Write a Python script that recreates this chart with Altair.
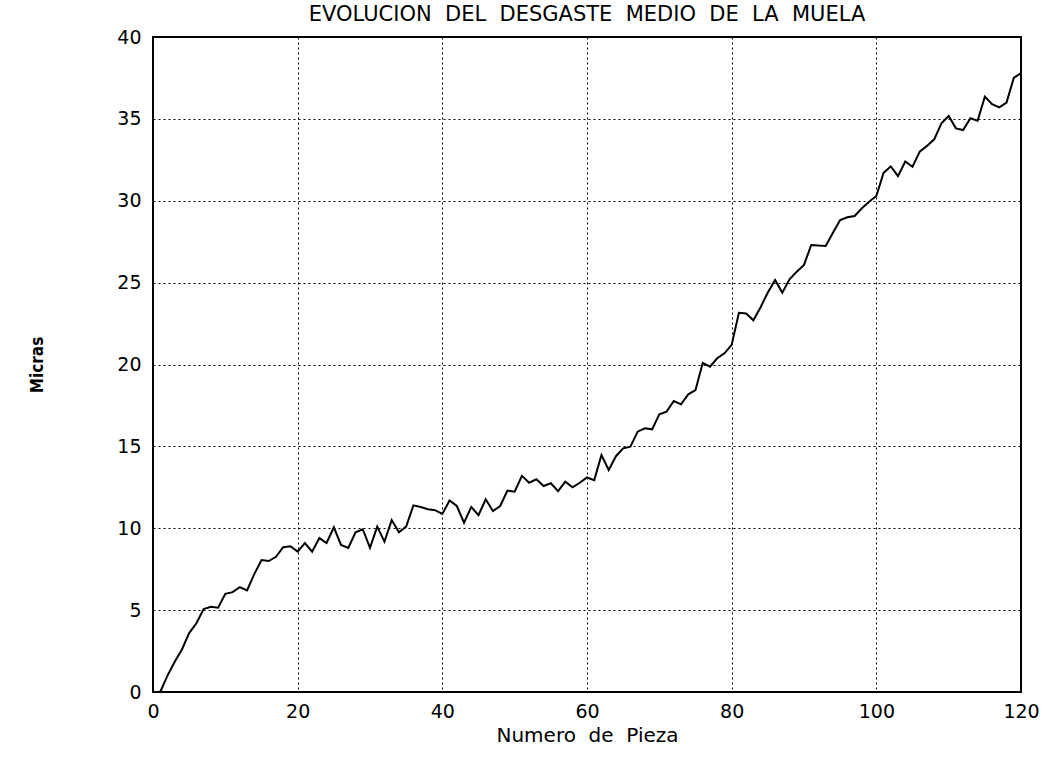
import altair as alt
import pandas as pd

piece = list(range(1, 121))
wear = [
    0.0, 1.0, 1.85, 2.6, 3.6, 4.2, 5.07, 5.2, 5.15, 6.0,
    6.1, 6.4, 6.2, 7.2, 8.06, 8.0, 8.26, 8.84, 8.9, 8.57,
    9.1, 8.57, 9.4, 9.1, 10.06, 8.98, 8.8, 9.75, 9.94, 8.8,
    10.1, 9.18, 10.5, 9.75, 10.1, 11.4, 11.3, 11.16, 11.1, 10.87,
    11.7, 11.36, 10.34, 11.3, 10.8, 11.77, 11.05, 11.36, 12.3, 12.23,
    13.2, 12.78, 12.99, 12.58, 12.75, 12.27, 12.84, 12.5, 12.78, 13.1,
    12.94, 14.47, 13.56, 14.4, 14.88, 14.98, 15.9, 16.1, 16.04, 16.96,
    17.12, 17.77, 17.57, 18.18, 18.44, 20.1, 19.87, 20.38, 20.68, 21.2,
    23.16, 23.12, 22.7, 23.5, 24.4, 25.16, 24.39, 25.2, 25.67, 26.08,
    27.3, 27.26, 27.24, 28.05, 28.82, 28.99, 29.07, 29.54, 29.94, 30.29,
    31.7, 32.1, 31.5, 32.4, 32.08, 33.0, 33.35, 33.75, 34.73, 35.18,
    34.42, 34.32, 35.04, 34.89, 36.36, 35.9, 35.7, 36.0, 37.5, 37.8,
]
x_ticks = [0, 20, 40, 60, 80, 100, 120]
y_ticks = [0, 5, 10, 15, 20, 25, 30, 35, 40]
x_domain = [0, 120]
y_domain = [0, 40]

NB = "\u00a0"
title_text = (NB * 2).join(["EVOLUCION", "DEL", "DESGASTE", "MEDIO", "DE", "LA", "MUELA"])
x_title = (NB * 2).join(["Numero", "de", "Pieza"])

df = pd.DataFrame({"pieza": piece, "micras": wear})
frame_df = pd.DataFrame({"x0": [x_domain[0]], "x1": [x_domain[1]], "y0": [y_domain[0]], "y1": [y_domain[1]]})

W, H = 868, 655
grid_dash = [2, 3]

x_scale = alt.Scale(domain=x_domain, nice=False, zero=False)
y_scale = alt.Scale(domain=y_domain, nice=False, zero=False)

line = (
    alt.Chart(df)
    .mark_line(color="black", strokeWidth=2)
    .encode(
        x=alt.X(
            "pieza:Q",
            scale=x_scale,
            axis=alt.Axis(
                values=x_ticks,
                title=x_title,
                grid=True,
                gridColor="black",
                gridDash=grid_dash,
                gridWidth=1,
                gridOpacity=1,
                ticks=False,
                domain=False,
                labelFont="DejaVu Sans",
                labelFontSize=19,
                labelColor="black",
                labelPadding=10,
                labelFlush=False,
                titleFont="DejaVu Sans",
                titleFontSize=20,
                titleFontWeight="normal",
                titleColor="black",
                titleX=W / 2,
                titleY=43,
                titleBaseline="middle",
                titleAlign="center",
            ),
        ),
        y=alt.Y(
            "micras:Q",
            scale=y_scale,
            axis=alt.Axis(
                values=y_ticks,
                title="Micras",
                grid=True,
                gridColor="black",
                gridDash=grid_dash,
                gridWidth=1,
                gridOpacity=1,
                ticks=False,
                domain=False,
                labelFont="DejaVu Sans",
                labelFontSize=19,
                labelColor="black",
                labelPadding=12,
                labelFlush=False,
                titleFont="Liberation Sans Narrow, DejaVu Sans Condensed, DejaVu Sans",
                titleFontSize=17,
                titleFontWeight="bold",
                titleColor="black",
                titleAngle=-90,
                titleX=-116,
                titleY=H / 2,
                titleAlign="center",
                titleBaseline="middle",
            ),
        ),
    )
)

frame = (
    alt.Chart(frame_df)
    .mark_rect(fill=None, fillOpacity=0, stroke="black", strokeWidth=2)
    .encode(x="x0:Q", x2="x1:Q", y="y0:Q", y2="y1:Q")
)

chart = (
    alt.layer(line, frame)
    .properties(
        width=W,
        height=H,
        title=alt.TitleParams(
            title_text,
            font="DejaVu Sans",
            fontSize=21,
            fontWeight="normal",
            color="black",
            anchor="middle",
            offset=3,
        ),
        autosize=alt.AutoSizeParams(type="none"),
        padding={"left": 153, "top": 37, "right": 30, "bottom": 74},
    )
    .configure_view(stroke=None)
    .configure(background="white")
)

chart.save("out.html", embed_options={"renderer": "svg", "actions": False})
